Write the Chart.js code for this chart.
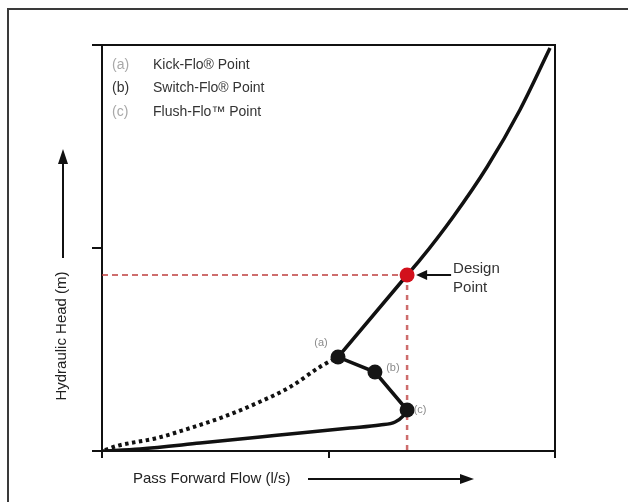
<!DOCTYPE html>
<html>
<head>
<meta charset="utf-8">
<script src="https://cdn.jsdelivr.net/npm/chart.js@4"></script>
<style>
  html, body { margin: 0; padding: 0; background: #fff; }
  #wrap { width: 628px; height: 502px; }
</style>
</head>
<body>
<div id="wrap"><canvas id="chart" width="628" height="502"></canvas></div>
<script>
// flow (x) and head (y), axis 0..2 with a tick at 1
const xTicks = [0, 1, 2];
const yTicks = [0, 1, 2];

// solid lower branch, origin -> (c)
const lowerX = [0, 0.168, 0.433, 0.698, 0.874, 1.095, 1.227, 1.294, 1.329, 1.347];
const lowerY = [0, 0.010, 0.039, 0.069, 0.089, 0.113, 0.128, 0.143, 0.172, 0.202];

// dotted branch, origin -> (a)
const dottedX = [0.013, 0.066, 0.243, 0.389, 0.534, 0.684, 0.830, 0.962, 1.042];
const dottedY = [0.005, 0.025, 0.064, 0.113, 0.167, 0.236, 0.315, 0.414, 0.463];

// (c) -> (b) -> (a) -> design point
const kneeX = [1.347, 1.205, 1.042, 1.347];
const kneeY = [0.202, 0.389, 0.463, 0.867];

// design point -> top
const upperX = [1.347, 1.404, 1.550, 1.700, 1.845, 1.978];
const upperY = [0.867, 0.941, 1.153, 1.399, 1.680, 1.985];

const pointKeys = ['(a)', '(b)', '(c)'];
const pointX = [1.042, 1.205, 1.347];
const pointY = [0.463, 0.389, 0.202];

const designX = 1.347;
const designY = 0.867;

const legendNames = ['Kick-Flo® Point', 'Switch-Flo® Point', 'Flush-Flo™ Point'];

const xy = (xs, ys) => xs.map((x, i) => ({ x: x, y: ys[i] }));

const ink = '#111';
const guide = 'rgba(190, 60, 60, 0.75)';

const decor = {
  id: 'decor',
  afterDraw(chart) {
    const { ctx, chartArea: a, scales } = chart;
    const sx = v => scales.x.getPixelForValue(v);
    const sy = v => scales.y.getPixelForValue(v);
    ctx.save();

    // outer frame (left + top only visible)
    ctx.strokeStyle = '#3a3a3a';
    ctx.lineWidth = 2;
    ctx.beginPath();
    ctx.moveTo(8, 502); ctx.lineTo(8, 9); ctx.lineTo(628, 9);
    ctx.stroke();

    // plot box top + right
    ctx.strokeStyle = ink;
    ctx.beginPath();
    ctx.moveTo(a.left, a.top); ctx.lineTo(a.right, a.top); ctx.lineTo(a.right, a.bottom);
    ctx.stroke();

    // legend
    ctx.textBaseline = 'middle';
    ctx.font = '14px "Liberation Sans", Arial, sans-serif';
    const keyCols = ['#a8a8a8', '#333', '#a8a8a8'];
    legendNames.forEach((name, i) => {
      const y = 65 + i * 23.5;
      ctx.fillStyle = keyCols[i];
      ctx.fillText(pointKeys[i], 112, y);
      ctx.fillStyle = '#333';
      ctx.fillText(name, 153, y);
    });

    // point labels
    ctx.font = '11px "Liberation Sans", Arial, sans-serif';
    ctx.fillStyle = '#8a8a8a';
    const offs = [[-17, -14], [18, -4], [13, 0]];
    pointKeys.forEach((k, i) => {
      ctx.textAlign = 'center';
      ctx.fillText(k, sx(pointX[i]) + offs[i][0], sy(pointY[i]) + offs[i][1]);
    });

    // design point note + arrow
    const dx = sx(designX), dy = sy(designY);
    ctx.strokeStyle = ink;
    ctx.fillStyle = ink;
    ctx.lineWidth = 2;
    ctx.beginPath();
    ctx.moveTo(dx + 44, dy); ctx.lineTo(dx + 14, dy);
    ctx.stroke();
    ctx.beginPath();
    ctx.moveTo(dx + 9, dy); ctx.lineTo(dx + 20, dy - 5); ctx.lineTo(dx + 20, dy + 5);
    ctx.closePath(); ctx.fill();
    ctx.textAlign = 'left';
    ctx.textBaseline = 'alphabetic';
    ctx.font = '15px "Liberation Sans", Arial, sans-serif';
    ctx.fillStyle = '#333';
    ctx.fillText('Design', dx + 46, dy - 2);
    ctx.fillText('Point', dx + 46, dy + 17);

    // x axis title + arrow
    ctx.fillStyle = '#222';
    ctx.textBaseline = 'middle';
    ctx.fillText('Pass Forward Flow (l/s)', 133, 479);
    ctx.fillStyle = ink;
    ctx.beginPath();
    ctx.moveTo(308, 479); ctx.lineTo(462, 479);
    ctx.stroke();
    ctx.beginPath();
    ctx.moveTo(474, 479); ctx.lineTo(460, 474); ctx.lineTo(460, 484);
    ctx.closePath(); ctx.fill();

    // y axis title + arrow
    ctx.save();
    ctx.translate(62, 336);
    ctx.rotate(-Math.PI / 2);
    ctx.textAlign = 'center';
    ctx.fillStyle = '#222';
    ctx.fillText('Hydraulic Head (m)', 0, 0);
    ctx.restore();
    ctx.beginPath();
    ctx.moveTo(63, 258); ctx.lineTo(63, 162);
    ctx.stroke();
    ctx.beginPath();
    ctx.moveTo(63, 149); ctx.lineTo(58, 164); ctx.lineTo(68, 164);
    ctx.closePath(); ctx.fill();

    ctx.restore();
  }
};

new Chart(document.getElementById('chart').getContext('2d'), {
  type: 'scatter',
  data: {
    datasets: [
      {
        label: 'points',
        data: xy(pointX, pointY),
        pointRadius: 7.5,
        pointBackgroundColor: '#151515',
        pointBorderWidth: 0,
        showLine: false
      },
      {
        label: 'design',
        data: [{ x: designX, y: designY }],
        pointRadius: 7.5,
        pointBackgroundColor: '#d2101c',
        pointBorderWidth: 0,
        showLine: false
      },
      {
        label: 'knee',
        data: xy(kneeX, kneeY),
        showLine: true,
        borderColor: ink,
        borderWidth: 3.5,
        pointRadius: 0,
        tension: 0
      },
      {
        label: 'upper',
        data: xy(upperX, upperY),
        showLine: true,
        borderColor: ink,
        borderWidth: 3.5,
        pointRadius: 0,
        cubicInterpolationMode: 'monotone'
      },
      {
        label: 'lower',
        data: xy(lowerX, lowerY),
        showLine: true,
        borderColor: ink,
        borderWidth: 3.5,
        pointRadius: 0,
        cubicInterpolationMode: 'monotone'
      },
      {
        label: 'dotted',
        data: xy(dottedX, dottedY),
        showLine: true,
        borderColor: ink,
        borderWidth: 4,
        borderDash: [3.5, 3.5],
        pointRadius: 0,
        cubicInterpolationMode: 'monotone'
      },
      {
        label: 'guideH',
        data: [{ x: 0, y: designY }, { x: designX, y: designY }],
        showLine: true,
        borderColor: guide,
        borderWidth: 2,
        borderDash: [6, 4],
        pointRadius: 0
      },
      {
        label: 'guideV',
        data: [{ x: designX, y: designY }, { x: designX, y: 0 }],
        showLine: true,
        borderColor: guide,
        borderWidth: 2.5,
        borderDash: [5, 5],
        pointRadius: 0
      }
    ]
  },
  options: {
    responsive: false,
    animation: false,
    layout: { padding: { left: 92, top: 45, right: 73, bottom: 44 } },
    plugins: { legend: { display: false }, tooltip: { enabled: false } },
    scales: {
      x: {
        type: 'linear', min: xTicks[0], max: xTicks[xTicks.length - 1],
        ticks: { stepSize: 1, display: false },
        grid: { drawOnChartArea: false, drawTicks: true, tickLength: 7, color: ink, lineWidth: 2 },
        border: { display: true, color: ink, width: 2 }
      },
      y: {
        type: 'linear', min: yTicks[0], max: yTicks[yTicks.length - 1],
        ticks: { stepSize: 1, display: false },
        grid: { drawOnChartArea: false, drawTicks: true, tickLength: 10, color: ink, lineWidth: 2 },
        border: { display: true, color: ink, width: 2 }
      }
    }
  },
  plugins: [decor]
});
</script>
</body>
</html>
